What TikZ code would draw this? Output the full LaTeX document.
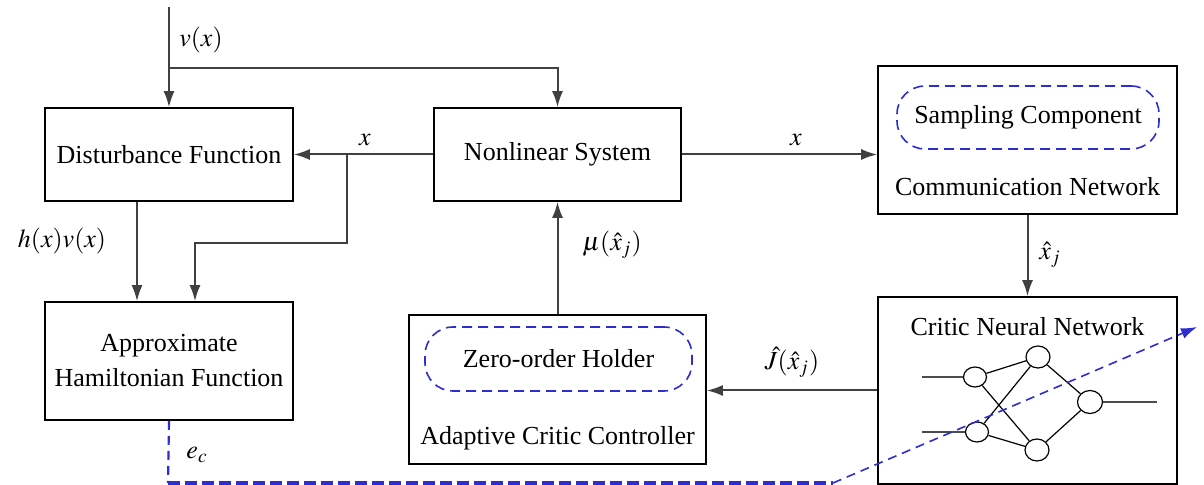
\documentclass[tikz,border=0pt]{standalone}
\usepackage{mathptmx}
\usepackage{fontspec}
\setmainfont{Liberation Serif}
\usetikzlibrary{arrows.meta,shapes.geometric}

\definecolor{dashblue}{RGB}{45,45,210}

\tikzset{
    block/.style={draw, line width=0.8pt, rectangle, inner sep=0pt},
    holder/.style={draw=dashblue, dash pattern=on 5pt off 3pt, line width=0.8pt,
        rounded corners=14pt, inner sep=0pt},
    sig/.style={draw=black!75, line width=1pt, -{Latex[length=8pt,width=5.5pt]}},
    neuron/.style={draw, ellipse, line width=0.6pt, minimum width=11.5pt,
        minimum height=10pt, inner sep=0pt},
    nnlink/.style={line width=0.6pt},
    nnio/.style={draw=black!70, line width=1pt},
    errline/.style={draw=dashblue, line width=2pt, dash pattern=on 6pt off 2.5pt},
    errarrow/.style={draw=dashblue, line width=0.8pt, dash pattern=on 4.5pt off 3pt,
        -{Latex[length=8pt,width=5.5pt]}}
}

\begin{document}
\begin{tikzpicture}[x=0.5pt, y=-0.5pt, font=\fontsize{13}{17.5}\selectfont]

\useasboundingbox (0,0) rectangle (1204,485);

% blocks
    \node[block, minimum width=124pt, minimum height=46.5pt] (dist) at (169,154.5) {Disturbance Function};
    \node[block, minimum width=123.5pt, minimum height=46.5pt] (nls) at (557.5,154.5) {Nonlinear System};
    \node[block, minimum width=149.5pt, minimum height=74pt] (comm) at (1027.5,140) {};
    \node[block, minimum width=124pt, minimum height=59pt, align=center] (ham) at (169,361)
        {Approximate\\Hamiltonian Function};
    \node[block, minimum width=148.5pt, minimum height=74.5pt] (acc) at (557.5,389.5) {};
    \node[block, minimum width=149.5pt, minimum height=93.5pt] (cnn) at (1027.5,390.5) {};

% inner parts
    \node[holder, minimum width=131pt, minimum height=31.5pt] (samp) at (1028,117.5) {Sampling Component};
    \node (commlabel) at (1027.5,187) {Communication Network};
    \node[holder, minimum width=133.5pt, minimum height=32pt] (zoh) at (558.5,359) {Zero-order Holder};
    \node (acclabel) at (557.5,438) {Adaptive Critic Controller};
    \node (cnnlabel) at (1027.5,327) {Critic Neural Network};

% signals
    \coordinate (vin) at (169,7);
    \coordinate (vsplit) at (169,68);
    \draw[sig] (vin) -- (dist.north);
    \draw[sig] (vsplit) -| (nls.north);
    \draw[sig] (nls.west) -- (dist.east);
    \coordinate (xsplit) at (347,154.5);
    \coordinate (xturn) at (195,243);
    \draw[sig] (xsplit) |- (xturn) -- (xturn |- ham.north);
    \coordinate (hvx) at (137,0);
    \draw[sig] (dist.south -| hvx) -- (ham.north -| hvx);
    \draw[sig] (acc.north) -- (nls.south);
    \draw[sig] (nls.east) -- (nls.east -| comm.west);
    \draw[sig] (comm.south) -- (cnn.north);
    \draw[sig] (cnn.west) -- (cnn.west -| acc.east);

% labels
    \node (lv) at (201,40) {$v(x)$};
    \node (lx1) at (365,140) {$x$};
    \node (lhv) at (62,241) {$h(x)v(x)$};
    \node (lmu) at (612,245) {$\mu(\hat{x}_j)$};
    \node (lx2) at (796,140) {$x$};
    \node (lxj) at (1050,255) {$\hat{x}_j$};
    \node (lJ) at (792,362) {$\hat{J}(\hat{x}_j)$};
    \node (lec) at (197,455) {$e_c$};

% critic network
    \node[neuron] (in1) at (975,377) {};
    \node[neuron] (in2) at (977,432) {};
    \node[neuron, minimum width=12pt, minimum height=11pt] (hid1) at (1038,357) {};
    \node[neuron, minimum width=12pt, minimum height=11pt] (hid2) at (1037,450) {};
    \node[neuron, minimum width=12.5pt, minimum height=11.5pt] (out) at (1090,402) {};
    \coordinate (nin1) at (922,377);
    \coordinate (nin2) at (922,432);
    \coordinate (nout) at (1157,402);
    \draw[nnio] (nin1) -- (in1);
    \draw[nnio] (nin2) -- (in2);
    \draw[nnio] (out) -- (nout);
    \foreach \i in {in1,in2}
        \foreach \h in {hid1,hid2}
            \draw[nnlink] (\i) -- (\h);
    \foreach \h in {hid1,hid2}
        \draw[nnlink] (\h) -- (out);

% error signal
    \coordinate (ecturn) at (168,483);
    \coordinate (ecbend) at (833,483);
    \coordinate (ectip) at (1197,327);
    \draw[errline, line width=1.1pt, dash pattern=on 4.5pt off 3pt] (ham.south) -- (ecturn);
    \draw[errline] (ecturn) -- (ecbend);
    \draw[errarrow] (ecbend) -- (ectip);

\end{tikzpicture}
\end{document}
